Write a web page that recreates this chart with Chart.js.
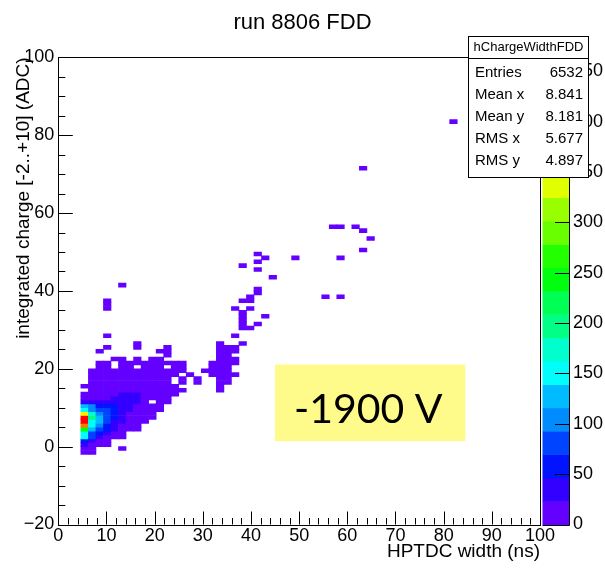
<!DOCTYPE html>
<html>
<head>
<meta charset="utf-8">
<script src="https://cdn.jsdelivr.net/npm/chart.js@4.4.1/dist/chart.umd.min.js"></script>
<style>
  html, body { margin: 0; padding: 0; background: #fff; }
  canvas { display: block; }
</style>
</head>
<body>
<canvas id="histo" width="605" height="570"></canvas>
<script>
// hChargeWidthFDD binning
const xBinWidth = 1.5625; // ns
const yBinWidth = 1;      // ADC

// dense part of the histogram: one list of bin contents per x bin,
// going upward from colStartY
const colX = [4.6875, 6.25, 7.8125, 9.375, 10.9375, 12.5, 14.0625, 15.625, 17.1875,
  18.75, 20.3125, 21.875, 23.4375, 25, 31.25, 32.8125, 34.375, 35.9375];
const colStartY = [-2, -2, 0, 0, 2, 2, 4, 4, 6, 7, 9, 11, 13, 14, 18, 14, 16, 21];
const colCounts = [
  [4, 12, 40, 60, 140, 150, 250, 400, 464, 455, 360, 155, 130, 40, 15, 8, 0, 2],
  [3, 10, 20, 35, 75, 90, 120, 150, 155, 200, 185, 105, 95, 30, 20, 12, 8, 6, 5, 4, 3, 2],
  [10, 18, 30, 50, 70, 95, 120, 125, 110, 75, 55, 30, 18, 10, 8, 6, 5, 4, 3, 3, 2, 2],
  [8, 15, 22, 35, 50, 60, 75, 80, 85, 70, 50, 30, 20, 12, 10, 8, 6, 5, 4, 3, 2, 2],
  [10, 18, 28, 35, 45, 55, 60, 55, 50, 35, 25, 18, 14, 10, 8, 6, 5, 4, 0, 0, 2],
  [5, 10, 15, 22, 28, 32, 35, 38, 40, 35, 30, 24, 18, 14, 10, 8, 6, 5, 4, 3, 2],
  [8, 12, 16, 20, 22, 26, 30, 32, 30, 26, 20, 15, 12, 9, 7, 5, 4, 3],
  [5, 8, 10, 12, 15, 18, 22, 26, 28, 25, 20, 16, 12, 9, 7, 5, 0, 3, 2],
  [5, 7, 9, 11, 14, 16, 18, 16, 15, 12, 10, 8, 6, 5, 4, 3],
  [3, 5, 6, 8, 0, 10, 10, 9, 8, 7, 6, 5, 4, 3, 3, 1],
  [2, 3, 4, 5, 6, 6, 6, 5, 5, 4, 3, 3, 2, 1],
  [2, 3, 3, 4, 4, 4, 3, 3, 2, 0, 2],
  [1, 2, 2, 0, 0, 2, 2, 2, 1],
  [1, 0, 1, 1, 0, 1, 1, 1],
  [1, 1, 2, 1],
  [1, 1, 1, 2, 2, 2, 2, 2, 2, 1, 1, 1, 1],
  [1, 1, 1, 2, 1, 2, 1, 1, 1, 1],
  [1, 1, 0, 1, 1]
];

// single entries (content 1): low edges of the bins
const loneX = [7.8125, 9.375, 9.375, 9.375, 9.375, 9.375, 12.5, 12.5, 15.625, 15.625,
  20.3125, 21.875, 21.875, 21.875, 26.5625, 28.125, 28.125, 29.6875, 35.9375, 35.9375,
  35.9375, 37.5, 37.5, 37.5, 37.5, 37.5, 37.5, 37.5, 37.5, 39.0625, 39.0625, 39.0625,
  39.0625, 40.625, 40.625, 40.625, 40.625, 40.625, 40.625, 42.1875, 42.1875, 43.75,
  48.4375, 54.6875, 56.25, 57.8125, 57.8125, 57.8125, 60.9375, 62.5, 62.5, 62.5,
  64.0625, 81.25];
const loneY = [24, 25, 28, 35, 36, 37, -1, 41, 25, 26,
  24, 23, 24, 25, 18, 16, 17, 19, 18, 28,
  35, 26, 30, 31, 32, 33, 34, 37, 46, 30, 35, 37,
  38, 31, 39, 40, 45, 47, 49, 33, 48, 43,
  48, 38, 56, 56, 48, 38, 56, 55, 50, 71,
  53, 83];

const xTicks = [0, 10, 20, 30, 40, 50, 60, 70, 80, 90, 100];
const yTicks = [-20, 0, 20, 40, 60, 80, 100];
const zTicks = [0, 50, 100, 150, 200, 250, 300, 350, 400, 450];

const statRows = [
  ["Entries", "6532"],
  ["Mean x", "8.841"],
  ["Mean y", "8.181"],
  ["RMS x", "5.677"],
  ["RMS y", "4.897"]
];

// label box in data units
const voltLabel = { text: "-1900 V", x0: 45, x1: 84.5, y0: 1.4, y1: 21.1 };

// ROOT "pretty" palette, 20 contour levels
const paletteColors = ["#6300ff", "#3300ff", "#0014ff", "#0044ff", "#008bff",
  "#00bbff", "#00fffc", "#00ffcc", "#00ff85", "#00ff55", "#00ff0e", "#22ff00",
  "#69ff00", "#99ff00", "#e0ff00", "#ffee00", "#ffa700", "#ff7700", "#ff3000", "#ff0000"];

const zMax = Math.max(...colCounts.flat());

function level(n) {
  return Math.min(paletteColors.length - 1, Math.floor(n / zMax * paletteColors.length));
}

const cells = [];
colX.forEach((x0, i) => {
  colCounts[i].forEach((n, r) => {
    if (n > 0) {
      const y0 = colStartY[i] + r * yBinWidth;
      cells.push({ x: x0 + xBinWidth / 2, y: [y0, y0 + yBinWidth], n: n });
    }
  });
});
loneX.forEach((x0, i) => {
  cells.push({ x: x0 + xBinWidth / 2, y: [loneY[i], loneY[i] + yBinWidth], n: 1 });
});

const FONT = "'Liberation Sans', Arial, sans-serif";
Chart.defaults.font.family = FONT;
Chart.defaults.color = "#000";

const crisp = v => Math.round(v) + 0.5;

// frame, inward ticks, palette, stats box and label
const rootDecor = {
  id: "rootDecor",
  afterDraw(chart) {
    const { ctx, chartArea: a, scales } = chart;
    const sx = scales.x, sy = scales.y, sz = scales.z;
    ctx.save();

    // palette
    const pl = a.right + 2.5, pr = a.right + 29;
    const nl = paletteColors.length;
    for (let j = 0; j < nl; j++) {
      const t = sz.getPixelForValue(zMax * (j + 1) / nl);
      const b = sz.getPixelForValue(zMax * j / nl);
      ctx.fillStyle = paletteColors[j];
      ctx.fillRect(pl, t, pr - pl, b - t + 0.5);
    }
    ctx.strokeStyle = "#000";
    ctx.lineWidth = 1;
    ctx.beginPath();
    ctx.moveTo(crisp(pr), a.top);
    ctx.lineTo(crisp(pr), crisp(a.bottom));
    ctx.lineTo(pl, crisp(a.bottom));
    zTicks.forEach(v => {
      const py = crisp(sz.getPixelForValue(v));
      ctx.moveTo(pr, py);
      ctx.lineTo(pr - 14, py);
    });
    ctx.stroke();

    // frame
    ctx.lineWidth = 1;
    ctx.strokeRect(crisp(a.left), crisp(a.top), Math.round(a.right) - Math.round(a.left), Math.round(a.bottom) - Math.round(a.top));

    // axis ticks (pointing into the frame)
    ctx.beginPath();
    for (let v = sx.min; v <= sx.max; v += 2) {
      const px = crisp(sx.getPixelForValue(v));
      const len = xTicks.includes(v) ? 13 : 6.5;
      ctx.moveTo(px, a.bottom);
      ctx.lineTo(px, a.bottom - len);
    }
    for (let v = sy.min; v <= sy.max; v += 5) {
      const py = crisp(sy.getPixelForValue(v));
      const len = yTicks.includes(v) ? 14.5 : 7;
      ctx.moveTo(a.left, py);
      ctx.lineTo(a.left + len, py);
    }
    ctx.stroke();

    // yellow label
    const lx0 = sx.getPixelForValue(voltLabel.x0), lx1 = sx.getPixelForValue(voltLabel.x1);
    const ly0 = sy.getPixelForValue(voltLabel.y0), ly1 = sy.getPixelForValue(voltLabel.y1);
    ctx.fillStyle = "#fffb8a";
    ctx.fillRect(lx0, ly1, lx1 - lx0, ly0 - ly1);
    ctx.fillStyle = "#000";
    ctx.font = "41px Lato, 'Open Sans', sans-serif";
    ctx.textAlign = "center";
    ctx.textBaseline = "alphabetic";
    ctx.fillText(voltLabel.text, (lx0 + lx1) / 2 - 2, ly0 - 18);

    // stats box
    const bx0 = 468.5, bx1 = 588.5, by0 = 36.5, by1 = 177.5;
    ctx.fillStyle = "#fff";
    ctx.fillRect(bx0, by0, bx1 - bx0, by1 - by0);
    ctx.strokeStyle = "#000";
    ctx.strokeRect(bx0, by0, bx1 - bx0, by1 - by0);
    ctx.beginPath();
    ctx.moveTo(bx0, 58.5);
    ctx.lineTo(bx1, 58.5);
    ctx.stroke();
    ctx.fillStyle = "#000";
    ctx.font = "13px " + FONT;
    ctx.textAlign = "center";
    ctx.textBaseline = "middle";
    ctx.fillText("hChargeWidthFDD", (bx0 + bx1) / 2, 47.5);
    ctx.font = "15px " + FONT;
    statRows.forEach((row, i) => {
      const py = 72.5 + i * 22;
      ctx.textAlign = "left";
      ctx.fillText(row[0], 475, py);
      ctx.textAlign = "right";
      ctx.fillText(row[1], 583, py);
    });
    ctx.restore();
  }
};

const minus = v => String(v).replace("-", "\u2212");

new Chart(document.getElementById("histo"), {
  type: "bar",
  data: {
    datasets: [{
      data: cells,
      backgroundColor: c => paletteColors[level(c.raw.n)],
      borderWidth: 0,
      categoryPercentage: 1,
      barPercentage: 1
    }]
  },
  options: {
    responsive: false,
    animation: false,
    events: [],
    layout: { padding: 0 },
    plugins: {
      legend: { display: false },
      tooltip: { enabled: false },
      title: {
        display: true,
        text: "run 8806 FDD",
        color: "#000",
        font: { size: 22, weight: "normal" },
        padding: { top: 10, bottom: 21 }
      }
    },
    scales: {
      x: {
        type: "linear",
        min: 0,
        max: 100,
        offset: false,
        grid: { display: false, drawTicks: false },
        border: { display: false },
        afterBuildTicks: s => { s.ticks = xTicks.map(v => ({ value: v })); },
        afterFit: s => { s.height = 45.5; },
        ticks: { padding: 1, font: { size: 18 }, maxRotation: 0, autoSkip: false },
        title: {
          display: true,
          text: "HPTDC width (ns)",
          align: "end",
          font: { size: 19 },
          padding: { top: 0, bottom: 7 }
        }
      },
      y: {
        type: "linear",
        min: -20,
        max: 100,
        grid: { display: false, drawTicks: false },
        border: { display: false },
        afterBuildTicks: s => { s.ticks = yTicks.map(v => ({ value: v })); },
        afterFit: s => { s.width = 58.3; },
        ticks: { padding: 4, font: { size: 18 }, callback: minus },
        title: {
          display: true,
          text: "integrated charge [-2..+10] (ADC)",
          align: "end",
          font: { size: 19 },
          padding: { top: 12, bottom: 0 }
        }
      },
      z: {
        axis: "y",
        type: "linear",
        position: "right",
        min: 0,
        max: zMax,
        grid: { display: false, drawTicks: false },
        border: { display: false },
        afterBuildTicks: s => { s.ticks = zTicks.map(v => ({ value: v })); },
        afterFit: s => { s.width = 65; },
        ticks: { padding: 33, font: { size: 18 } }
      }
    }
  },
  plugins: [rootDecor]
});
</script>
</body>
</html>
